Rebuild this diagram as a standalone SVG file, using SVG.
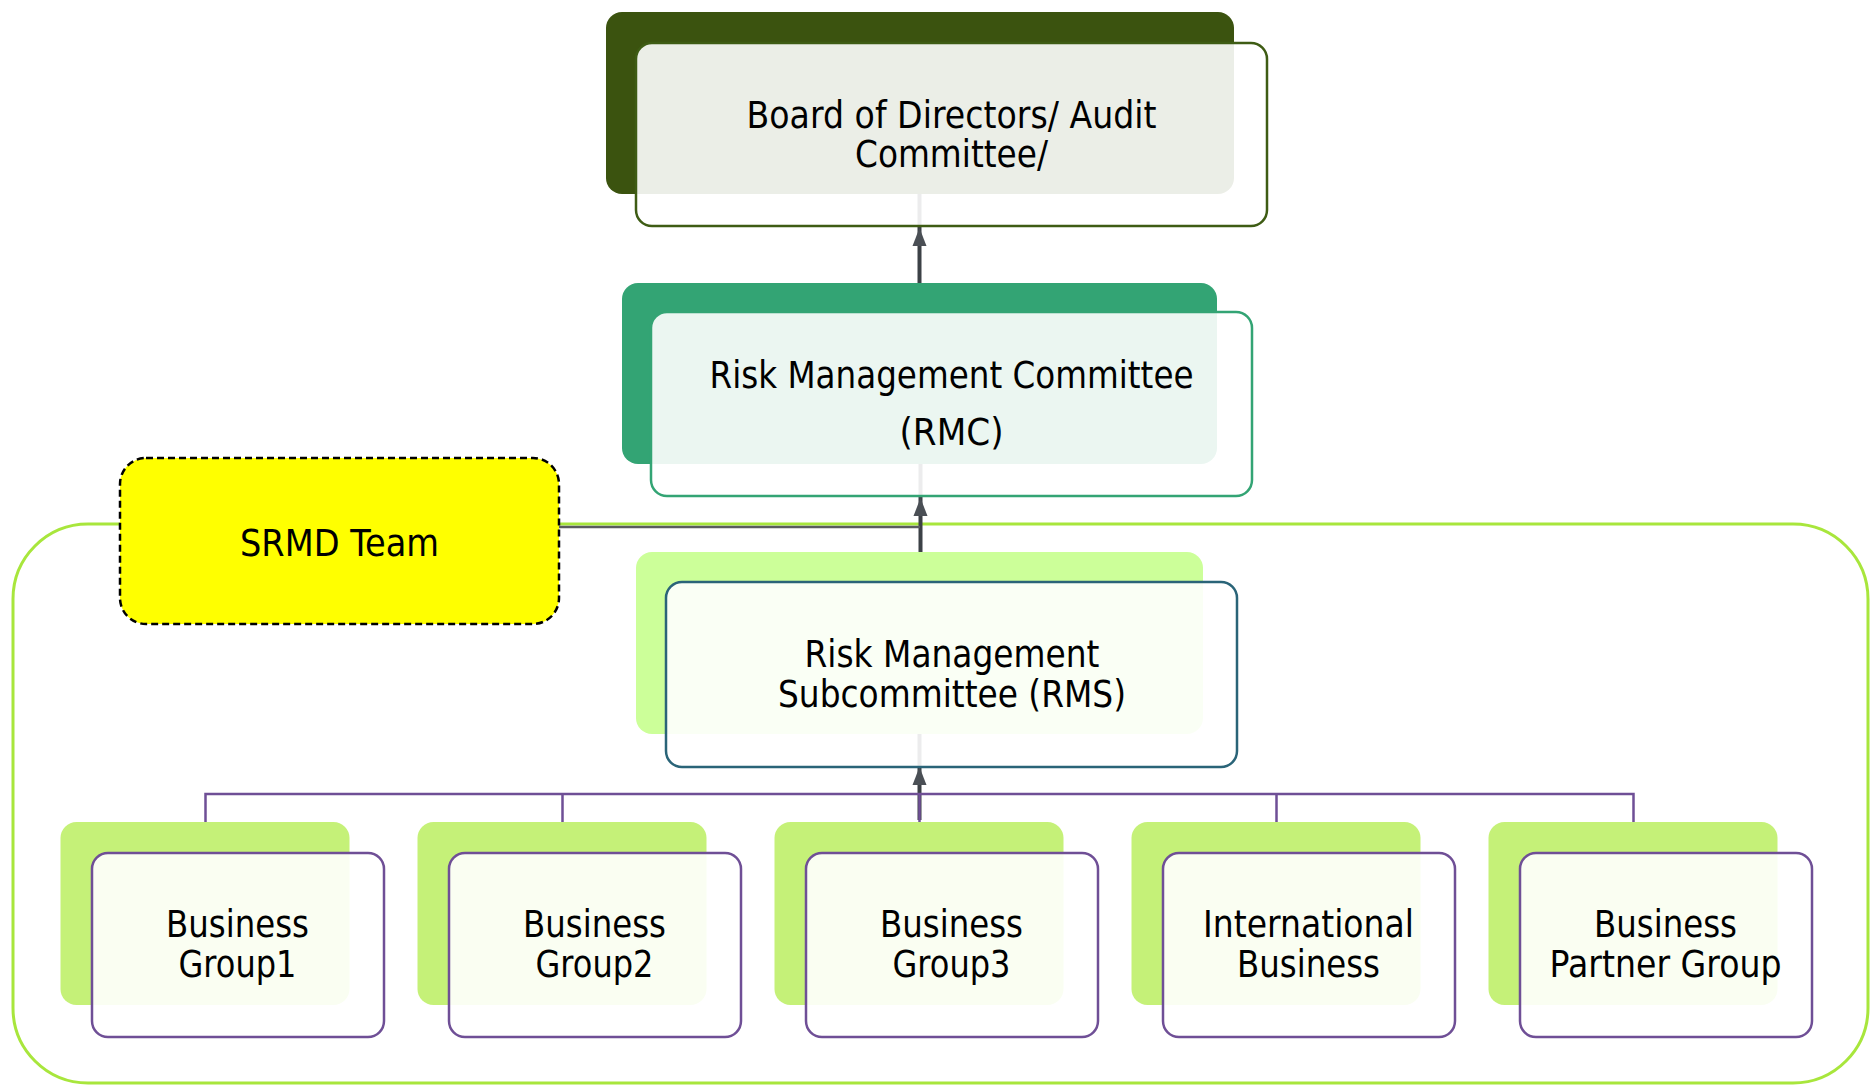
<svg xmlns="http://www.w3.org/2000/svg" width="1871" height="1088" viewBox="0 0 1871 1088">
<defs>
<style>
.t{font-family:"DejaVu Sans","Liberation Sans",sans-serif;font-size:37px;fill:#000;text-anchor:middle}
.front{fill:#fff;fill-opacity:0.9;stroke-width:2.5}
.arrow{fill:none;stroke:#3C4146;stroke-width:4}
.bus{fill:none;stroke:#6F4F96;stroke-width:2.5}
.bback{fill:#C5F178}
.bfront{stroke:#6F4F96}
</style>
<marker id="ah" viewBox="0 -8 18 16" refX="18" refY="0" markerWidth="18" markerHeight="16" markerUnits="userSpaceOnUse" orient="auto">
<path d="M0,-7 L18,0 L0,7 z" fill="#4A4F55"/>
</marker>
</defs>
<rect width="1871" height="1088" fill="#fff"/>
<g id="container">
<rect x="13" y="524" width="1855" height="559" rx="75" fill="none" stroke="#A8E63C" stroke-width="3"/>
</g>
<g id="connectors">
<path class="arrow" d="M919.5,194 V228 M919.5,283 V228" marker-end="url(#ah)"/>
<path class="arrow" d="M920.5,464 V498 M920.5,552 V498" marker-end="url(#ah)"/>
<path class="arrow" d="M919.5,734 V767 M919.5,820 V767" marker-end="url(#ah)"/>
<path d="M559,527 H920" fill="none" stroke="#5A5C5E" stroke-width="2.5"/>
<path class="bus" d="M205.5,822 V794 H1633.5 V822 M562.5,794 V822 M919.5,794 V822 M1276.5,794 V822"/>
</g>
<g id="board">
<rect x="606" y="12" width="628" height="182" rx="16" fill="#3B530F"/>
<rect class="front" x="636" y="43" width="631" height="183" rx="16" stroke="#3E5C14"/>
<text class="t" x="951.5" y="128" textLength="410" lengthAdjust="spacingAndGlyphs">Board of Directors/ Audit</text>
<text class="t" x="951.5" y="167" textLength="193" lengthAdjust="spacingAndGlyphs">Committee/</text>
</g>
<g id="rmc">
<rect x="622" y="283" width="595" height="181" rx="16" fill="#33A474"/>
<rect class="front" x="651" y="312" width="601" height="184" rx="16" stroke="#33A474"/>
<text class="t" x="951.5" y="388" textLength="484" lengthAdjust="spacingAndGlyphs">Risk Management Committee</text>
<text class="t" x="951.5" y="445" textLength="104" lengthAdjust="spacingAndGlyphs">(RMC)</text>
</g>
<g id="srmd">
<rect x="120" y="458" width="439" height="166" rx="26" fill="#FFFF00" stroke="#000" stroke-width="2.5" stroke-dasharray="7 4"/>
<text class="t" x="339.5" y="556" textLength="199" lengthAdjust="spacingAndGlyphs">SRMD Team</text>
</g>
<g id="rms">
<rect x="636" y="552" width="567" height="182" rx="16" fill="#CCFF99"/>
<rect class="front" x="666" y="582" width="571" height="185" rx="16" stroke="#2A6478"/>
<text class="t" x="952" y="667" textLength="295" lengthAdjust="spacingAndGlyphs">Risk Management</text>
<text class="t" x="952" y="707" textLength="348" lengthAdjust="spacingAndGlyphs">Subcommittee (RMS)</text>
</g>
<g id="bg1">
<rect class="bback" x="60.5" y="822" width="289" height="183" rx="16"/>
<rect class="front bfront" x="92" y="853" width="292" height="184" rx="16"/>
<text class="t" x="237.5" y="937" textLength="143" lengthAdjust="spacingAndGlyphs">Business</text>
<text class="t" x="237.5" y="977" textLength="118" lengthAdjust="spacingAndGlyphs">Group1</text>
</g>
<g id="bg2">
<rect class="bback" x="417.5" y="822" width="289" height="183" rx="16"/>
<rect class="front bfront" x="449" y="853" width="292" height="184" rx="16"/>
<text class="t" x="594.5" y="937" textLength="143" lengthAdjust="spacingAndGlyphs">Business</text>
<text class="t" x="594.5" y="977" textLength="118" lengthAdjust="spacingAndGlyphs">Group2</text>
</g>
<g id="bg3">
<rect class="bback" x="774.5" y="822" width="289" height="183" rx="16"/>
<rect class="front bfront" x="806" y="853" width="292" height="184" rx="16"/>
<text class="t" x="951.5" y="937" textLength="143" lengthAdjust="spacingAndGlyphs">Business</text>
<text class="t" x="951.5" y="977" textLength="118" lengthAdjust="spacingAndGlyphs">Group3</text>
</g>
<g id="intl">
<rect class="bback" x="1131.5" y="822" width="289" height="183" rx="16"/>
<rect class="front bfront" x="1163" y="853" width="292" height="184" rx="16"/>
<text class="t" x="1308.5" y="937" textLength="211" lengthAdjust="spacingAndGlyphs">International</text>
<text class="t" x="1308.5" y="977" textLength="143" lengthAdjust="spacingAndGlyphs">Business</text>
</g>
<g id="bpg">
<rect class="bback" x="1488.5" y="822" width="289" height="183" rx="16"/>
<rect class="front bfront" x="1520" y="853" width="292" height="184" rx="16"/>
<text class="t" x="1665.5" y="937" textLength="143" lengthAdjust="spacingAndGlyphs">Business</text>
<text class="t" x="1665.5" y="977" textLength="232" lengthAdjust="spacingAndGlyphs">Partner Group</text>
</g>
</svg>
